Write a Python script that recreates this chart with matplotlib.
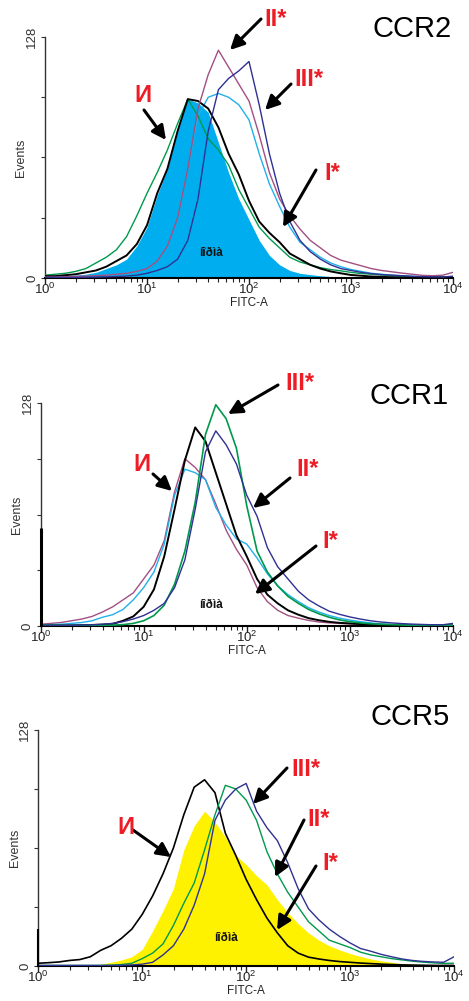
import numpy as np
import matplotlib
matplotlib.use("Agg")
import matplotlib.pyplot as plt

plt.rcParams['font.family'] = ['Liberation Sans', 'DejaVu Sans']

# log10(FITC-A) channel positions
log_fitc = [0.0, 0.1, 0.2, 0.3, 0.4, 0.5, 0.6, 0.7, 0.8, 0.9,
            1.0, 1.1, 1.2, 1.3, 1.4, 1.5, 1.6, 1.7, 1.8, 1.9,
            2.0, 2.1, 2.2, 2.3, 2.4, 2.5, 2.6, 2.7, 2.8, 2.9,
            3.0, 3.1, 3.2, 3.3, 3.4, 3.5, 3.6, 3.7, 3.8, 3.9, 4.0]

# ---- CCR2 ----
ccr2_norma = [1, 1, 1, 1.5, 2, 3, 5, 7, 10, 17, 27, 44, 58, 78, 95, 93, 88, 72, 56, 42, 31,
              20, 12, 7, 4, 2.5, 1.8, 1.2, 0.8, 0.5, 0.4, 0.3, 0.3, 0.2, 0.2, 0.2, 0.2, 0.2, 0.2, 0.2, 0.2]
ccr2_black = [1, 1, 1.5, 2, 3, 4, 6, 9, 12, 18, 28, 45, 58, 78, 95, 94, 90, 80, 66, 55, 41,
              30, 24, 19, 13, 10, 7, 5, 3.5, 2.5, 1.6, 1.2, 0.8, 0.6, 0.4, 0.3, 0.3, 0.3, 0.3, 0.3, 0.3]
ccr2_green = [1.5, 2, 2.5, 3.5, 5, 8, 11, 15, 22, 33, 45, 56, 68, 82, 95, 86, 74, 68, 60, 47, 37,
              27, 21, 16, 11, 8.5, 7, 5.5, 4.5, 3.8, 3, 2.4, 2, 1.6, 1.2, 1, 0.7, 0.5, 0.4, 0.3, 0.3]
ccr2_magenta = [0.5, 0.5, 0.7, 0.8, 1, 1.2, 1.5, 2, 2.5, 3.5, 5, 9, 17, 32, 58, 90, 108, 121, 112, 103, 94,
                76, 56, 42, 33, 26, 20, 16, 12, 9.5, 8, 6.5, 5, 4, 3.3, 2.6, 2, 1.4, 1.2, 1.5, 3]
ccr2_navy = [0.3, 0.3, 0.3, 0.3, 0.4, 0.5, 0.6, 0.8, 1, 1.5, 2.5, 4, 6, 10, 20, 42, 78, 100, 106, 110, 115,
             92, 66, 45, 30, 20, 14, 10, 7, 5, 4, 3, 2.3, 1.8, 1.5, 1.2, 0.9, 0.7, 0.6, 0.5, 1]
ccr2_lightblue = [0.5, 0.5, 0.7, 0.8, 1, 1.2, 1.5, 2, 2.5, 3.5, 5, 9, 17, 32, 58, 86, 96, 98, 96, 92, 84,
                  66, 50, 38, 27, 19, 15, 11, 8, 6, 4.5, 3.5, 2.5, 2, 1.5, 1.2, 0.9, 0.7, 0.6, 0.5, 0.5]

# ---- CCR1 ----
ccr1_black = [0.3, 0.3, 0.3, 0.4, 0.5, 0.6, 0.8, 1.2, 3, 5.5, 11, 21, 40, 67, 95, 114, 106, 88, 70, 52, 40,
              27, 18, 13, 9, 6.5, 4.5, 3.3, 2.4, 1.8, 1.5, 1.1, 0.9, 0.7, 0.5, 0.4, 0.3, 0.3, 0.3, 0.3, 0.3]
ccr1_magenta = [1, 1.5, 2, 3, 4, 5.5, 8, 11, 15, 19, 27, 35, 49, 77, 96, 91, 84, 70, 55, 44, 35,
                22, 14, 9, 6, 4.5, 3.2, 2.3, 1.8, 1.5, 1.2, 1, 0.8, 0.6, 0.5, 0.4, 0.3, 0.3, 0.3, 0.3, 0.3]
ccr1_lightblue = [0.5, 0.8, 1, 1.5, 2, 3, 5, 6.5, 9.5, 15, 22, 31, 47, 75, 90, 88, 84, 68, 58, 50, 47,
                  39, 30, 23, 18, 14, 10.5, 8, 6, 4.5, 3.4, 2.5, 1.8, 1.2, 0.9, 0.6, 0.4, 0.3, 0.3, 0.3, 0.3]
ccr1_green = [0.3, 0.3, 0.3, 0.3, 0.3, 0.3, 0.4, 0.5, 0.8, 1.5, 3, 6, 12, 24, 43, 71, 110, 127, 119, 102, 69,
              43, 31, 23, 17, 13, 9.5, 7, 5, 3.5, 2.5, 1.8, 1.3, 1, 0.8, 0.6, 0.4, 0.3, 0.3, 0.3, 0.3]
ccr1_navy = [0.3, 0.3, 0.3, 0.4, 0.5, 0.7, 1, 1.5, 2.5, 4, 6, 9, 13, 22, 38, 67, 100, 112, 104, 93, 75,
             63, 45, 34, 27, 20, 15, 11.5, 8.5, 6.7, 5.2, 4, 3, 2.3, 1.8, 1.4, 1.1, 0.9, 0.7, 0.7, 1.5]
ccr1_spike = 56

# ---- CCR5 ----
ccr5_norma = [0.2, 0.2, 0.2, 0.3, 0.4, 0.5, 1, 2, 3.3, 5, 9, 19, 30, 42, 63, 76, 84, 78, 70, 60, 55,
              49, 44, 36, 29, 23, 18, 14, 11, 8.7, 6.8, 5.2, 3.8, 2.8, 2, 1.3, 0.9, 0.6, 0.4, 0.3, 0.3]
ccr5_black = [1.5, 1.8, 2.2, 3, 3.5, 5, 8.5, 11, 15, 20, 28, 38, 50, 64, 82, 97, 101, 94, 72, 60, 47,
              36, 26, 18, 11, 7, 4.8, 3.8, 3, 2.4, 2, 1.6, 1.3, 1, 0.8, 0.6, 0.5, 0.4, 0.3, 0.3, 0.3]
ccr5_green = [0.3, 0.3, 0.3, 0.3, 0.3, 0.3, 0.3, 0.5, 0.8, 1.5, 4, 7, 12, 22, 34, 45, 63, 82, 98, 96, 90,
              79, 62, 50, 40, 32, 24, 19, 14, 12, 10, 7.5, 6, 5, 4, 3.3, 2.6, 2.1, 1.7, 1.4, 1.5]
ccr5_navy = [0.3, 0.3, 0.3, 0.3, 0.3, 0.3, 0.3, 0.3, 0.4, 0.6, 1, 2, 6, 11, 20, 33, 50, 79, 90, 96, 99,
             84, 75, 68, 56, 42, 31, 25, 20, 16, 12.5, 9.5, 8, 6.3, 5, 3.8, 3, 2.5, 2.2, 2, 5]
ccr5_spike = 20

C_CYAN = '#00AEEF'
C_LBLUE = '#22B0EA'
C_MAG = '#A24F82'
C_NAVY = '#2E3192'
C_GREEN = '#00994C'
C_YELLOW = '#FFF200'
C_RED = '#EE1C25'

W, H = 469, 1001
fig = plt.figure(figsize=(W / 100, H / 100), dpi=100)


def fx(px):
    return px / W


def fy(py):
    return 1 - py / H


x = 10 ** np.array(log_fitc)


def make_axes(left, right, top, bottom):
    ax = fig.add_axes([fx(left), fy(bottom), fx(right) - fx(left), fy(top) - fy(bottom)])
    ax.set_xscale('log')
    ax.set_xlim(1, 1e4)
    ax.set_ylim(0, 128)
    for s in ('top', 'right'):
        ax.spines[s].set_visible(False)
    ax.spines['bottom'].set_linewidth(1.5)
    ax.spines['left'].set_linewidth(1.0)
    ax.spines['left'].set_color('#333333')
    ax.set_yticks([0, 128])
    ax.set_yticklabels(['0', '128'], rotation=90, va='center', fontsize=9.5, color='#333333')
    ax.set_yticks([32, 64, 96], minor=True)
    ax.tick_params(axis='y', which='both', direction='out', length=3, width=0.8, pad=2, colors='#333333')
    ax.tick_params(axis='x', which='major', direction='out', length=4, width=1, labelsize=9.5,
                   pad=-1, colors='#222222')
    ax.tick_params(axis='x', which='minor', direction='out', length=3, width=0.8, colors='#222222')
    ax.set_xlabel('FITC-A', fontsize=8.5, labelpad=0, color='#222222')
    ax.set_ylabel('Events', fontsize=9, labelpad=-1, color='#333333')
    ax.patch.set_alpha(0)
    return ax


def arrow(tail, tip):
    fig.add_artist(matplotlib.patches.FancyArrowPatch(
        (fx(tail[0]), fy(tail[1])), (fx(tip[0]), fy(tip[1])),
        transform=fig.transFigure, arrowstyle='-|>,head_length=0.6,head_width=0.3',
        mutation_scale=14, lw=2.2, color='black', shrinkA=0, shrinkB=0))


def label(px, py, s, size=17):
    fig.text(fx(px), fy(py), s, color=C_RED, fontsize=size, fontweight='bold', ha='center', va='center')


def title(px, py, s):
    fig.text(fx(px), fy(py), s, color='black', fontsize=21, ha='center', va='center')


def norma(px, py):
    fig.text(fx(px), fy(py), 'íîðìà', color='#111111', fontsize=8.5, fontweight='bold', ha='center', va='center')


# ---- Panel 1: CCR2 ----
ax1 = make_axes(45, 453, 37, 278)
ax1.fill_between(x, 0, ccr2_norma, color=C_CYAN, lw=0, zorder=1)
ax1.plot(x, ccr2_lightblue, color=C_LBLUE, lw=1.0, zorder=2)
ax1.plot(x, ccr2_green, color=C_GREEN, lw=1.0, zorder=3)
ax1.plot(x, ccr2_black, color='black', lw=1.4, zorder=4)
ax1.plot(x, ccr2_magenta, color=C_MAG, lw=1.0, zorder=5)
ax1.plot(x, ccr2_navy, color=C_NAVY, lw=1.0, zorder=6)

title(412, 29, 'CCR2')
label(276, 19, 'II*')
arrow((261, 19), (230, 50))
label(309, 80, 'III*')
arrow((291, 84), (265, 110))
label(143, 96, 'И')
arrow((144, 110), (166, 140))
label(332, 174, 'I*')
arrow((316, 170), (283, 227))
norma(211, 253)

# ---- Panel 2: CCR1 ----
ax2 = make_axes(40.5, 453, 403, 626)
ax2.plot(x, ccr1_magenta, color=C_MAG, lw=1.0, zorder=2)
ax2.plot(x, ccr1_lightblue, color=C_LBLUE, lw=1.0, zorder=3)
ax2.plot(x, ccr1_black, color='black', lw=1.4, zorder=4)
ax2.plot(x, ccr1_green, color=C_GREEN, lw=1.2, zorder=5)
ax2.plot(x, ccr1_navy, color=C_NAVY, lw=1.0, zorder=6)
ax2.vlines(10 ** log_fitc[0], 0, ccr1_spike, color='black', lw=2.2, zorder=7, clip_on=False)

title(409, 396, 'CCR1')
label(300, 383, 'III*')
arrow((278, 385), (228, 414))
label(142, 464, 'И')
arrow((153, 474), (172, 491))
label(308, 469, 'II*')
arrow((290, 478), (253, 508))
label(330, 542, 'I*')
arrow((316, 546), (255, 594))
norma(211, 605)

# ---- Panel 3: CCR5 ----
ax3 = make_axes(38.3, 454, 730, 966)
ax3.fill_between(x, 0, ccr5_norma, color=C_YELLOW, lw=0, zorder=1)
ax3.plot(x, ccr5_black, color='black', lw=1.2, zorder=4)
ax3.plot(x, ccr5_green, color=C_GREEN, lw=1.0, zorder=5)
ax3.plot(x, ccr5_navy, color=C_NAVY, lw=1.0, zorder=6)
ax3.vlines(10 ** log_fitc[0], 0, ccr5_spike, color='black', lw=1.5, zorder=7, clip_on=False)

title(410, 717, 'CCR5')
label(306, 770, 'III*')
arrow((287, 768), (253, 804))
label(319, 820, 'II*')
arrow((304, 820), (275, 877))
label(126, 827, 'И')
arrow((133, 830), (171, 857))
label(330, 864, 'I*')
arrow((316, 866), (277, 930))
norma(226, 938)

fig.savefig('out.png', dpi=100)
